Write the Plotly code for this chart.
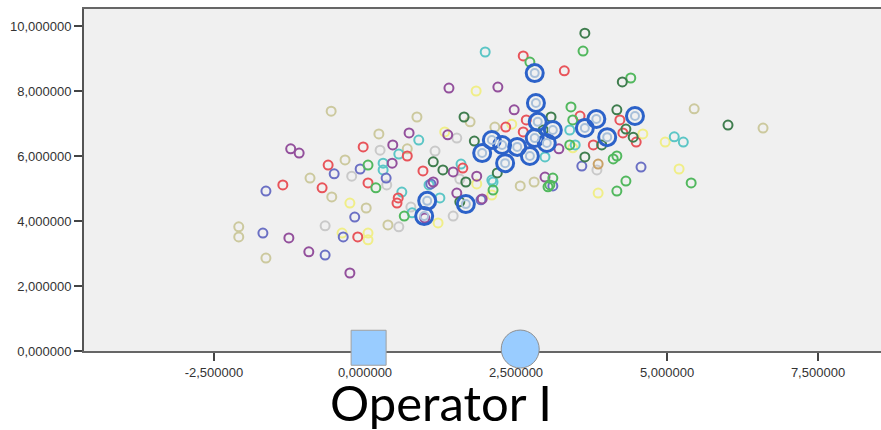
import plotly.graph_objects as go

# ---- data ----
red_x = [-1.36, -0.61, -0.71, -0.12, -0.03, 0.05, 0.55, 0.53, 0.70, 0.96, 1.62, 2.62, 3.30, 3.56, 2.67, 2.33, 2.62, 3.78, 4.22, 4.27, 4.49]
red_y = [5.11, 5.72, 5.02, 3.51, 6.28, 5.17, 4.71, 4.55, 6.00, 5.54, 5.63, 9.08, 8.62, 7.23, 7.11, 6.89, 6.74, 6.34, 7.11, 6.71, 6.43]

blue_x = [-1.64, -1.69, -0.51, -0.66, -0.17, -0.36, -0.08, 0.35, 1.92, 3.11, 3.59, 4.57, 1.09]
blue_y = [4.92, 3.63, 5.45, 2.95, 4.12, 3.51, 5.60, 5.32, 4.65, 5.08, 5.69, 5.66, 5.14]

purple_x = [-1.23, -1.09, -1.26, -0.93, -0.25, 0.46, 0.45, 0.73, 1.37, 1.39, 2.20, 2.47, 1.46, 1.85, 1.52, 1.13, 1.94, 3.21, 2.98, 0.99]
purple_y = [6.22, 6.09, 3.48, 3.05, 2.40, 6.34, 5.78, 6.71, 6.65, 8.09, 8.12, 7.42, 5.51, 5.38, 4.86, 5.20, 4.68, 6.22, 5.35, 4.09]

teal_x = [1.99, 0.89, 0.56, 0.30, 0.30, 1.59, 1.06, 0.61, 0.78, 1.24, 2.12, 3.39, 3.48, 2.98, 2.10, 5.12, 5.27]
teal_y = [9.20, 6.49, 6.06, 5.78, 5.57, 5.75, 5.11, 4.89, 4.25, 4.71, 5.20, 6.80, 6.34, 5.97, 5.26, 6.59, 6.43]

green_x = [0.05, 0.18, 0.65, 2.12, 3.03, 3.61, 2.73, 3.41, 3.44, 3.39, 4.40, 3.11, 3.06, 4.11, 4.17, 4.17, 4.32, 5.40]
green_y = [5.72, 5.02, 4.15, 4.95, 5.05, 9.23, 8.89, 7.51, 7.11, 6.34, 8.40, 5.32, 5.11, 5.91, 6.00, 4.92, 5.23, 5.17]

dkgreen_x = [3.64, 4.26, 1.64, 1.81, 1.13, 1.29, 1.67, 1.57, 3.08, 2.95, 4.17, 3.92, 4.32, 4.44, 3.64, 2.19, 6.01]
dkgreen_y = [9.78, 8.28, 7.20, 6.46, 5.82, 5.57, 5.20, 4.59, 7.20, 6.80, 7.42, 6.34, 6.83, 6.58, 5.97, 5.48, 6.95]

khaki_x = [-2.09, -2.09, -1.64, -0.56, -0.91, -0.55, -0.33, 0.02, 0.23, 0.70, 0.86, 1.74, 0.38, 2.15, 2.57, 2.80, 5.45, 6.59]
khaki_y = [3.82, 3.51, 2.86, 7.38, 5.32, 4.74, 5.88, 4.40, 6.68, 6.22, 7.20, 7.05, 3.88, 6.89, 5.08, 5.20, 7.45, 6.86]

orange_x = [3.86]
orange_y = [5.75]

yellow_x = [-0.25, -0.38, 0.05, 0.05, 1.21, 1.32, 1.84, 2.43, 1.85, 2.10, 3.44, 3.86, 4.60, 4.97, 5.20]
yellow_y = [4.55, 3.63, 3.63, 3.42, 3.94, 6.74, 8.00, 6.98, 5.14, 4.80, 6.25, 4.86, 6.68, 6.43, 5.60]

gray_x = [-0.66, -0.22, 0.25, 0.36, 0.76, 0.56, 1.46, 1.16, 1.52, 1.57, 3.84]
gray_y = [3.85, 5.38, 6.18, 5.11, 4.43, 3.82, 4.15, 6.15, 6.55, 5.29, 5.57]

big_x = [2.81, 2.83, 2.86, 3.11, 2.81, 3.01, 2.10, 2.27, 1.94, 2.52, 2.32, 2.73, 3.64, 3.83, 4.01, 4.47, 1.67, 1.03, 0.98]
big_y = [8.55, 7.63, 7.05, 6.80, 6.55, 6.40, 6.49, 6.34, 6.09, 6.28, 5.78, 6.00, 6.86, 7.14, 6.58, 7.23, 4.52, 4.62, 4.15]

# decorative symbols on the x axis
square_x = [0.06]
square_y = [0.10]
disc_x = [2.57]
disc_y = [0.06]

x_ticks = [-2.5, 0.0, 2.5, 5.0, 7.5]
x_tick_labels = ["-2,500000", "0,000000", "2,500000", "5,000000", "7,500000"]
y_ticks = [0, 2, 4, 6, 8, 10]
y_tick_labels = ["0,000000", "2,000000", "4,000000", "6,000000", "8,000000", "10,000000"]

title_text = "Operator I"

groups = [
    (khaki_x, khaki_y, "#CCC99E"),
    (gray_x, gray_y, "#C9C9C9"),
    (yellow_x, yellow_y, "#F0EE88"),
    (teal_x, teal_y, "#5CC6C6"),
    (red_x, red_y, "#E8545A"),
    (blue_x, blue_y, "#6B70C4"),
    (purple_x, purple_y, "#93509C"),
    (green_x, green_y, "#52B85E"),
    (dkgreen_x, dkgreen_y, "#3F7D4E"),
    (orange_x, orange_y, "#C9A266"),
]

fig = go.Figure()
for gx, gy, col in groups:
    fig.add_trace(go.Scatter(
        x=gx, y=gy, mode="markers",
        marker=dict(symbol="circle-open", size=9, color=col, line=dict(width=2, color=col)),
        hoverinfo="skip"))

fig.add_trace(go.Scatter(
    x=big_x, y=big_y, mode="markers",
    marker=dict(symbol="circle-open", size=17, color="#2C62C9", line=dict(width=3, color="#2C62C9")),
    hoverinfo="skip"))
fig.add_trace(go.Scatter(
    x=big_x, y=big_y, mode="markers",
    marker=dict(symbol="circle-open", size=8, color="#A9C0DA", line=dict(width=2, color="#A9C0DA")),
    hoverinfo="skip"))

fig.add_trace(go.Scatter(
    x=square_x, y=square_y, mode="markers", cliponaxis=False,
    marker=dict(symbol="square", size=35, color="#99CCFF", line=dict(width=1, color="#A0A0A0")),
    hoverinfo="skip"))
fig.add_trace(go.Scatter(
    x=disc_x, y=disc_y, mode="markers", cliponaxis=False,
    marker=dict(symbol="circle", size=38, color="#99CCFF", line=dict(width=1, color="#909090")),
    hoverinfo="skip"))

tickfont = dict(family="Liberation Sans, Arial, sans-serif", size=13, color="#333333")

fig.update_layout(
    width=881, height=430,
    margin=dict(l=84, r=0, t=9, b=79),
    paper_bgcolor="white",
    plot_bgcolor="#F0F0F0",
    showlegend=False,
    xaxis=dict(
        range=[-4.652, 8.543], showgrid=False, zeroline=False,
        tickvals=x_ticks, ticktext=x_tick_labels, tickfont=tickfont,
        ticks="outside", ticklen=8, tickwidth=2, tickcolor="#444",
        showline=True, linewidth=2, linecolor="#666", mirror=True,
        layer="below traces",
    ),
    yaxis=dict(
        range=[0, 10.523], showgrid=False, zeroline=False,
        tickvals=y_ticks, ticktext=y_tick_labels, tickfont=tickfont,
        ticks="outside", ticklen=8, tickwidth=2, tickcolor="#444",
        showline=True, linewidth=2, linecolor="#555",
        layer="below traces",
    ),
    annotations=[dict(
        text=title_text, xref="paper", yref="paper", x=0.448, y=-0.0585,
        xanchor="center", yanchor="top", showarrow=False,
        font=dict(family="Lato, sans-serif", size=49, color="black"),
    )],
)

fig.write_html("out.html", config={"displayModeBar": False},
               post_script="document.body.style.margin='0px';document.body.style.overflow='hidden';")
